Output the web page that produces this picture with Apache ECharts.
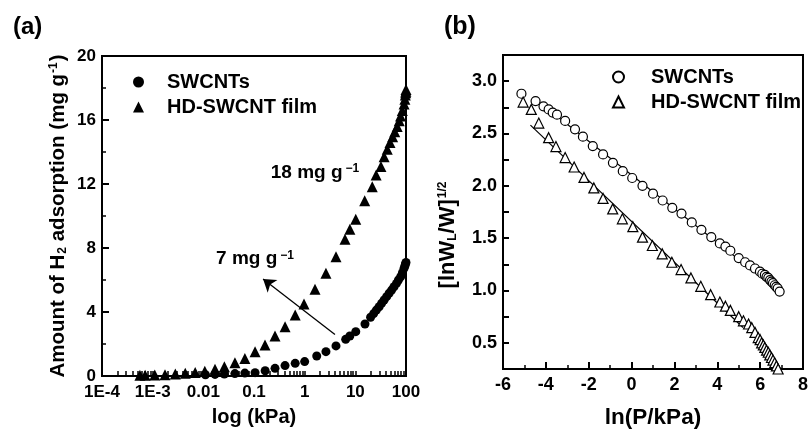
<!DOCTYPE html>
<html>
<head>
<meta charset="utf-8">
<script src="https://cdn.jsdelivr.net/npm/echarts@6/dist/echarts.min.js"></script>
<style>
  html, body { margin: 0; padding: 0; background: #fff; }
  #chart { width: 811px; height: 434px; }
</style>
</head>
<body>
<div id="chart"></div>
<script>
// ---- panel (a): H2 uptake vs pressure (log axis) ----
const swcntP = [0.011, 0.017, 0.026, 0.042, 0.066, 0.105, 0.166, 0.26, 0.41, 0.65, 1.0, 1.73, 2.63, 4.15, 6.45, 7.8, 10.2, 15.5, 20, 23, 26, 29.5, 33, 37, 41.5, 46.5, 52, 58, 65, 71, 78.5, 85, 91.5, 95, 97.5, 100];
const swcntW = [0.08, 0.1, 0.12, 0.15, 0.18, 0.21, 0.33, 0.48, 0.65, 0.79, 0.9, 1.25, 1.52, 1.88, 2.29, 2.5, 2.77, 3.25, 3.67, 3.9, 4.12, 4.33, 4.54, 4.75, 4.96, 5.17, 5.37, 5.58, 5.79, 6.0, 6.2, 6.45, 6.73, 6.88, 7.0, 7.1];
const filmP = [5.6e-4, 7.1e-4, 1.1e-3, 1.75e-3, 2.8e-3, 4.4e-3, 6.9e-3, 0.0107, 0.017, 0.026, 0.042, 0.066, 0.105, 0.165, 0.26, 0.41, 0.65, 0.97, 1.6, 2.63, 4.15, 6.25, 7.8, 10.2, 15.3, 21.6, 25.7, 32, 37, 42.6, 48.3, 54.5, 60, 67, 73.5, 78, 84.5, 91.5, 95, 97, 98.5, 99.5, 100];
const filmW = [0.04, 0.05, 0.06, 0.08, 0.12, 0.17, 0.22, 0.3, 0.42, 0.58, 0.83, 1.1, 1.52, 1.94, 2.5, 3.08, 3.81, 4.5, 5.42, 6.42, 7.46, 8.54, 9.17, 9.8, 10.96, 11.83, 12.56, 13.1, 13.7, 14.17, 14.6, 14.96, 15.27, 15.6, 15.96, 16.25, 16.6, 17.0, 17.3, 17.56, 17.7, 17.8, 17.9];
const logTickLabels = ['1E-4', '1E-3', '0.01', '0.1', '1', '10', '100'];
const arrowFrom = [3.96, 2.6];
const arrowTo = [0.151, 6.06];
const label18At = [1.6, 12.7];
const label7At = [0.105, 7.3];

// ---- panel (b): D-R plot ----
const swLnP = [-5.14, -4.48, -4.11, -3.87, -3.68, -3.48, -3.10, -2.64, -2.27, -1.81, -1.33, -0.87, -0.41, 0.03, 0.51, 1.0, 1.45, 1.9, 2.33, 2.81, 3.26, 3.72, 4.12, 4.38, 4.61, 5.0, 5.30, 5.53, 5.76, 5.99, 6.1, 6.22, 6.3, 6.38, 6.46, 6.53, 6.6, 6.68, 6.75, 6.82, 6.91];
const swDR = [2.88, 2.81, 2.76, 2.73, 2.70, 2.68, 2.62, 2.54, 2.47, 2.38, 2.30, 2.22, 2.14, 2.075, 2.0, 1.925, 1.86, 1.79, 1.735, 1.65, 1.58, 1.51, 1.45, 1.42, 1.38, 1.31, 1.27, 1.24, 1.21, 1.18, 1.16, 1.15, 1.13, 1.12, 1.10, 1.085, 1.07, 1.05, 1.035, 1.02, 0.99];
const hdLnP = [-5.06, -4.68, -4.33, -3.87, -3.53, -3.10, -2.68, -2.22, -1.76, -1.33, -0.88, -0.43, 0.06, 0.51, 0.97, 1.43, 1.88, 2.31, 2.77, 3.23, 3.69, 4.12, 4.38, 4.61, 5.0, 5.22, 5.46, 5.61, 5.76, 5.91, 6.0, 6.07, 6.15, 6.22, 6.3, 6.38, 6.45, 6.53, 6.6, 6.68, 6.76, 6.84];
const hdDR = [2.80, 2.73, 2.60, 2.46, 2.375, 2.27, 2.18, 2.08, 1.98, 1.88, 1.78, 1.685, 1.61, 1.51, 1.43, 1.35, 1.27, 1.20, 1.12, 1.04, 0.96, 0.89, 0.85, 0.81, 0.75, 0.71, 0.68, 0.645, 0.60, 0.55, 0.53, 0.50, 0.48, 0.456, 0.43, 0.41, 0.385, 0.36, 0.335, 0.31, 0.28, 0.25];
const swFitX = [-4.5, 6.9];
const swFitY = [2.83, 0.99];
const hdFitX = [-4.72, 5.2];
const hdFitY = [2.58, 0.646];
const yLabelsB = [0.5, 1.0, 1.5, 2.0, 2.5, 3.0];
const yTicksB = [0.5, 0.75, 1.0, 1.25, 1.5, 1.75, 2.0, 2.25, 2.5, 2.75, 3.0];

const zip = (a, b) => a.map((v, i) => [v, b[i]]);
const FONT = 'Liberation Sans, Arial, sans-serif';

// ticks of the log axis: 1..9 x each decade, plus 100
const logTicks = [];
for (let e = -4; e < 2; e++) {
  for (let k = 1; k <= 9; k++) logTicks.push(k * Math.pow(10, e));
}
logTicks.push(100);
const logLabels = logTickLabels.map((s, i) => Math.pow(10, i - 4));

const chart = echarts.init(document.getElementById('chart'));

const blackLine = () => ({ show: true, onZero: false, lineStyle: { color: '#000', width: 2 } });
const tickLabel = (size) => ({ color: '#000', fontWeight: 'bold', fontSize: size, fontFamily: FONT });
const tick = (len, w, extra) => Object.assign({ show: true, inside: true, length: len, lineStyle: { color: '#000', width: w } }, extra || {});

const option = {
  animation: false,
  textStyle: { fontFamily: FONT },
  title: [
    { text: '(a)', left: 8, top: 10, textStyle: { fontSize: 24, fontWeight: 'bold', color: '#000', fontFamily: FONT } },
    { text: '(b)', left: 439, top: 10, textStyle: { fontSize: 25, fontWeight: 'bold', color: '#000', fontFamily: FONT } }
  ],
  legend: [
    {
      data: ['a:SWCNTs', 'a:HD-SWCNT film'],
      orient: 'vertical', left: 128, top: 67,
      itemWidth: 11, itemHeight: 11, itemGap: 5,
      selectedMode: false,
      formatter: (n) => n.slice(2),
      textStyle: { fontSize: 20, fontWeight: 'bold', color: '#000', fontFamily: FONT, lineHeight: 20, padding: [0, 0, 0, 18] }
    },
    {
      data: ['b:SWCNTs', 'b:HD-SWCNT film'],
      orient: 'vertical', left: 607, top: 62,
      itemWidth: 11, itemHeight: 11, itemGap: 5,
      selectedMode: false,
      formatter: (n) => n.slice(2),
      textStyle: { fontSize: 20, fontWeight: 'bold', color: '#000', fontFamily: FONT, lineHeight: 20, padding: [0, 0, 0, 22] }
    }
  ],
  grid: [
    { left: 102, top: 56, width: 304, height: 320, show: true, borderColor: '#000', borderWidth: 2 },
    { left: 503, top: 55, width: 304, height: 319, show: true, borderColor: '#000', borderWidth: 2 }
  ],
  xAxis: [
    {
      gridIndex: 0, type: 'log', logBase: 10, min: 1e-4, max: 100, interval: 1,
      name: 'log (kPa)', nameLocation: 'middle', nameGap: 31,
      nameTextStyle: { fontSize: 20, fontWeight: 'bold', color: '#000', fontFamily: FONT },
      axisLine: blackLine(),
      axisTick: tick(5, 1.5, { customValues: logTicks }),
      axisLabel: Object.assign(tickLabel(17), {
        margin: 8,
        customValues: logLabels,
        formatter: (v) => logTickLabels[Math.round(Math.log10(v)) + 4]
      }),
      splitLine: { show: false }
    },
    {
      gridIndex: 1, type: 'value', min: -6, max: 8, interval: 2,
      name: 'ln(P/kPa)', nameLocation: 'middle', nameGap: 37,
      nameTextStyle: { fontSize: 22.5, fontWeight: 'bold', color: '#000', fontFamily: FONT },
      axisLine: blackLine(),
      axisTick: tick(7, 2),
      minorTick: { show: true, splitNumber: 2, length: 4, lineStyle: { color: '#000', width: 1.5 } },
      axisLabel: Object.assign(tickLabel(18), { margin: 7 }),
      splitLine: { show: false }
    }
  ],
  yAxis: [
    {
      gridIndex: 0, type: 'value', min: 0, max: 20, interval: 4,
      name: 'Amount of H{sub|2} adsorption (mg g{sup|-1})',
      nameLocation: 'middle', nameGap: 33, nameRotate: 90,
      nameTextStyle: {
        fontSize: 20.5, fontWeight: 'bold', color: '#000', fontFamily: FONT,
        rich: {
          sub: { fontSize: 12, fontWeight: 'bold', color: '#000', fontFamily: FONT, verticalAlign: 'bottom', padding: [7, 0, 0, 1] },
          sup: { fontSize: 12, fontWeight: 'bold', color: '#000', fontFamily: FONT, verticalAlign: 'top', padding: [0, 1, 9, 1] }
        }
      },
      axisLine: blackLine(),
      axisTick: tick(7, 2),
      minorTick: { show: true, splitNumber: 2, length: 4, lineStyle: { color: '#000', width: 1.5 } },
      axisLabel: Object.assign(tickLabel(17), { margin: 6 }),
      splitLine: { show: false }
    },
    {
      gridIndex: 1, type: 'value', min: 0.25, max: 3.25,
      name: '[lnW{sub|L}/W]{sup|1/2}',
      nameLocation: 'middle', nameGap: 44, nameRotate: 90,
      nameTextStyle: {
        fontSize: 22, fontWeight: 'bold', color: '#000', fontFamily: FONT,
        padding: [0, 46, 0, 0],
        rich: {
          sub: { fontSize: 12, fontWeight: 'bold', color: '#000', fontFamily: FONT, verticalAlign: 'bottom', padding: [8, 0, 0, 0] },
          sup: { fontSize: 12, fontWeight: 'bold', color: '#000', fontFamily: FONT, verticalAlign: 'top', padding: [0, 0, 10, 1] }
        }
      },
      axisLine: blackLine(),
      axisTick: tick(6, 2, { customValues: yTicksB }),
      axisLabel: Object.assign(tickLabel(18), { margin: 6, customValues: yLabelsB, formatter: (v) => v.toFixed(1) }),
      splitLine: { show: false }
    }
  ],
  series: [
    {
      name: 'a:SWCNTs', type: 'scatter', xAxisIndex: 0, yAxisIndex: 0,
      symbol: 'circle', symbolSize: 9,
      itemStyle: { color: '#000', opacity: 1 },
      data: zip(swcntP, swcntW),
      markLine: {
        silent: true, symbol: ['none', 'arrow'], symbolSize: 12,
        lineStyle: { color: '#000', width: 1.3, type: 'solid' },
        label: { show: false },
        data: [[{ coord: arrowFrom }, { coord: arrowTo }]]
      },
      markPoint: {
        silent: true, symbol: 'circle', symbolSize: 0,
        label: {
          show: true, position: 'inside', color: '#000', fontSize: 19, fontWeight: 'bold', fontFamily: FONT,
          formatter: '7 mg g{sup|−1}',
          rich: { sup: { fontSize: 12, fontWeight: 'bold', color: '#000', verticalAlign: 'top', padding: [0, 0, 8, 3] } }
        },
        data: [{ coord: label7At }]
      }
    },
    {
      name: 'a:HD-SWCNT film', type: 'scatter', xAxisIndex: 0, yAxisIndex: 0,
      symbol: 'triangle', symbolSize: 11,
      itemStyle: { color: '#000', opacity: 1 },
      data: zip(filmP, filmW),
      markPoint: {
        silent: true, symbol: 'circle', symbolSize: 0,
        label: {
          show: true, position: 'inside', color: '#000', fontSize: 19, fontWeight: 'bold', fontFamily: FONT,
          formatter: '18 mg g{sup|−1}',
          rich: { sup: { fontSize: 12, fontWeight: 'bold', color: '#000', verticalAlign: 'top', padding: [0, 0, 8, 3] } }
        },
        data: [{ coord: label18At }]
      }
    },
    {
      name: 'b:SWCNTs', type: 'scatter', xAxisIndex: 1, yAxisIndex: 1,
      symbol: 'circle', symbolSize: 9,
      itemStyle: { color: '#fff', borderColor: '#000', borderWidth: 1.2, opacity: 1 },
      data: zip(swLnP, swDR)
    },
    {
      name: 'b:HD-SWCNT film', type: 'scatter', xAxisIndex: 1, yAxisIndex: 1,
      symbol: 'triangle', symbolSize: 10,
      itemStyle: { color: '#fff', borderColor: '#000', borderWidth: 1.2, opacity: 1 },
      data: zip(hdLnP, hdDR)
    },
    {
      name: 'swFit', type: 'line', xAxisIndex: 1, yAxisIndex: 1,
      showSymbol: false, symbol: 'none', silent: true, z: 1,
      lineStyle: { color: '#000', width: 1.2 },
      data: zip(swFitX, swFitY)
    },
    {
      name: 'hdFit', type: 'line', xAxisIndex: 1, yAxisIndex: 1,
      showSymbol: false, symbol: 'none', silent: true, z: 1,
      lineStyle: { color: '#000', width: 1.2 },
      data: zip(hdFitX, hdFitY)
    }
  ]
};

chart.setOption(option);
</script>
</body>
</html>
